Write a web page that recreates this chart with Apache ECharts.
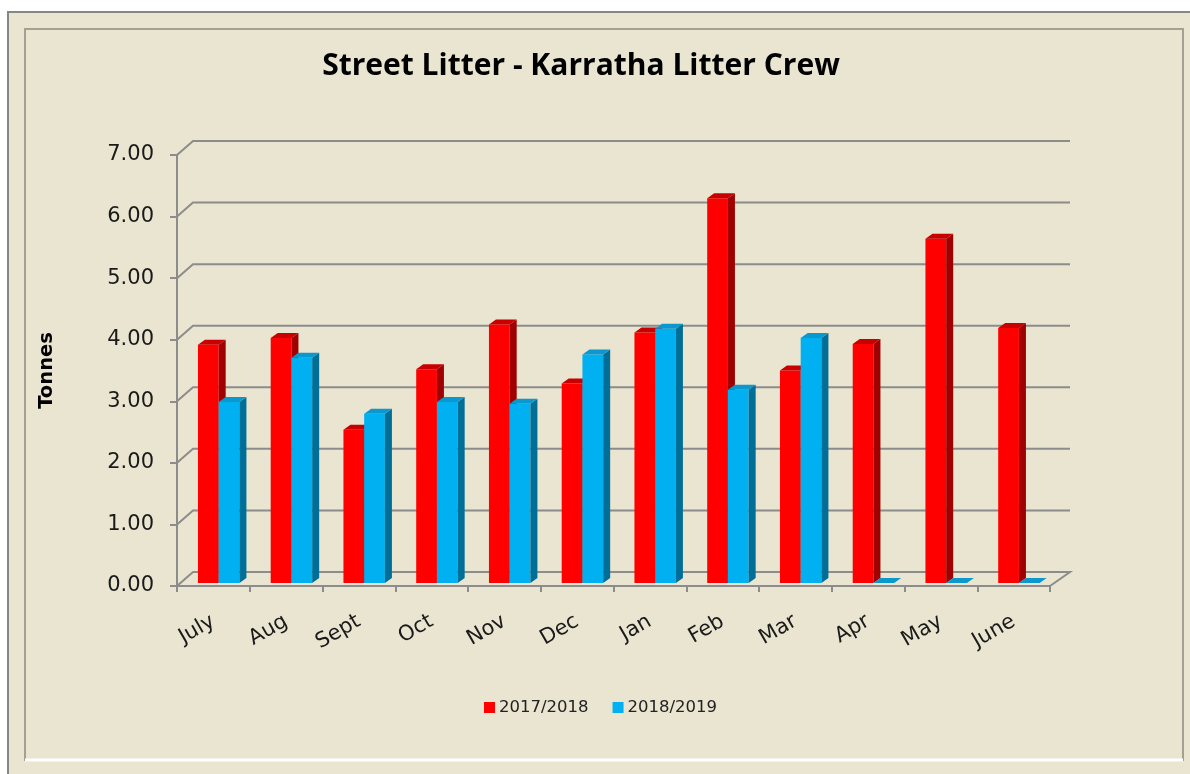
<!DOCTYPE html>
<html>
  <head>
    <meta charset="utf-8" />
    <title>Street Litter - Karratha Litter Crew</title>
    <script src="https://cdn.jsdelivr.net/npm/echarts@6/dist/echarts.min.js"></script>
    <style>
      *{
        margin: 0;
        padding: 0;
      }
      html,
      body,
      #container {
        width: 100%;
        height: 100%;
        background: #ffffff;
      }
    </style>
  </head>
  <body>
    <div id="container"></div>
    <script>
      const months = ["July", "Aug", "Sept", "Oct", "Nov", "Dec", "Jan", "Feb", "Mar", "Apr", "May", "June"];
      const season1718 = [3.87, 3.98, 2.49, 3.47, 4.2, 3.24, 4.07, 6.25, 3.45, 3.88, 5.59, 4.14];
      const season1819 = [2.94, 3.66, 2.75, 2.94, 2.91, 3.71, 4.13, 3.14, 3.98, 0, 0, 0];
      const yTicks = [0, 1, 2, 3, 4, 5, 6, 7];

      const chartDom = document.getElementById("container");
      var myChart = echarts.init(chartDom);

      // depth of the 3d walls and of the bars, in px
      const wallDx = 16, wallDy = -14, wallRight = 20;
      const barDx = 7, barDy = -5, barLift = -3;

      // one renderItem per season; offset is the bar's start as a part of the band
      const makeBar = (offset, front, side, top) => (params, api) => {
        const i = api.value(0);
        const pTop = api.coord([i, api.value(1)]);
        const pBase = api.coord([i, 0]);
        const bw = api.size([1, 0])[0];
        const x0 = pBase[0] + bw * offset;
        const x1 = x0 + bw * 0.285;
        const yT = pTop[1] + barLift;
        const yB = pBase[1] + barLift;
        return {
          type: "group",
          children: [
            {
              type: "rect",
              shape: { x: x0, y: yT, width: x1 - x0, height: yB - yT },
              style: { fill: front },
            },
            {
              type: "polygon",
              shape: { points: [[x1, yT], [x1 + barDx, yT + barDy], [x1 + barDx, yB + barDy], [x1, yB]] },
              style: { fill: side },
            },
            {
              type: "polygon",
              shape: { points: [[x0, yT], [x0 + barDx, yT + barDy], [x1 + barDx, yT + barDy], [x1, yT]] },
              style: { fill: top },
            },
          ],
        };
      };

      const renderWall = (params, api) => {
        const v = api.value(1);
        const bw = api.size([1, 0])[0];
        const left = api.coord([0, v]);
        const right = api.coord([months.length - 1, v]);
        const xl = left[0] - bw / 2;
        const xr = right[0] + bw / 2;
        const y = left[1];
        const pts = [[xl, y], [xl + wallDx, y + wallDy], [xr + wallRight, y + wallDy]];
        if (v === 0) pts.push([xr, y]);
        return {
          type: "polyline",
          shape: { points: pts },
          style: { stroke: "#8c8c8c", lineWidth: 2, fill: null },
        };
      };

      myChart.setOption({
        animation: false,
        backgroundColor: "#ffffff",
        graphic: [
          {
            type: "rect",
            z: -10,
            shape: { x: 8, y: 12, width: 1200, height: 800 },
            style: { fill: "#e9e5d0", stroke: "#868686", lineWidth: 2 },
          },
          {
            type: "rect",
            z: -9,
            shape: { x: 25, y: 29, width: 1158, height: 731 },
            style: { fill: "#e9e5d0", stroke: "#a3a191", lineWidth: 2 },
          },
          {
            type: "line",
            z: -8,
            shape: { x1: 25, y1: 760, x2: 1183, y2: 760 },
            style: { stroke: "#ffffff", lineWidth: 3 },
          },
        ],
        title: {
          text: "Street Litter - Karratha Litter Crew",
          left: 576,
          top: 46,
          textAlign: "center",
          textStyle: {
            fontFamily: "Open Sans",
            fontWeight: "bold",
            fontSize: 30,
            color: "#000000",
          },
        },
        legend: {
          left: 479,
          top: 694,
          itemWidth: 11,
          itemHeight: 11,
          itemGap: 24,
          icon: "rect",
          textStyle: { fontFamily: "DejaVu Sans", fontSize: 16.5, color: "#222222", padding: [0, 0, 0, -1] },
          data: [
            { name: "2017/2018", itemStyle: { color: "#ff0000" } },
            { name: "2018/2019", itemStyle: { color: "#00b0f0" } },
          ],
        },
        grid: { left: 177, right: 140, top: 155, bottom: 188 },
        xAxis: {
          type: "category",
          data: months,
          axisLine: { lineStyle: { color: "#8c8c8c", width: 2 } },
          axisTick: { show: true, length: 6, interval: 0, lineStyle: { color: "#8c8c8c", width: 2 } },
          axisLabel: {
            rotate: 30,
            margin: 34,
            interval: 0,
            fontFamily: "DejaVu Sans",
            fontSize: 21,
            color: "#1a1a1a",
          },
        },
        yAxis: {
          type: "value",
          min: 0,
          max: 7,
          interval: 1,
          name: "Tonnes",
          nameLocation: "middle",
          nameRotate: 90,
          nameGap: 120,
          nameTextStyle: { fontFamily: "DejaVu Sans", fontWeight: "bold", fontSize: 19.5, color: "#000000" },
          axisLine: { show: true, lineStyle: { color: "#8c8c8c", width: 2 } },
          axisTick: { show: true, length: 7, lineStyle: { color: "#8c8c8c", width: 2 } },
          splitLine: { show: false },
          axisLabel: {
            margin: 23,
            fontFamily: "DejaVu Sans",
            fontSize: 21,
            color: "#1a1a1a",
            formatter: (v) => v.toFixed(2),
          },
        },
        series: [
          {
            name: "wall",
            type: "custom",
            silent: true,
            z: 1,
            renderItem: renderWall,
            data: yTicks.map((v) => [0, v]),
          },
          {
            name: "2017/2018",
            type: "custom",
            z: 3,
            itemStyle: { color: "#ff0000" },
            renderItem: makeBar(-0.212, "#ff0000", "#a00000", "#c80000"),
            data: season1718.map((v, i) => [i, v]),
          },
          {
            name: "2018/2019",
            type: "custom",
            z: 3,
            itemStyle: { color: "#00b0f0" },
            renderItem: makeBar(0.073, "#00b0f0", "#006f98", "#0a98cf"),
            data: season1819.map((v, i) => [i, v]),
          },
        ],
      });
    </script>
  </body>
</html>
